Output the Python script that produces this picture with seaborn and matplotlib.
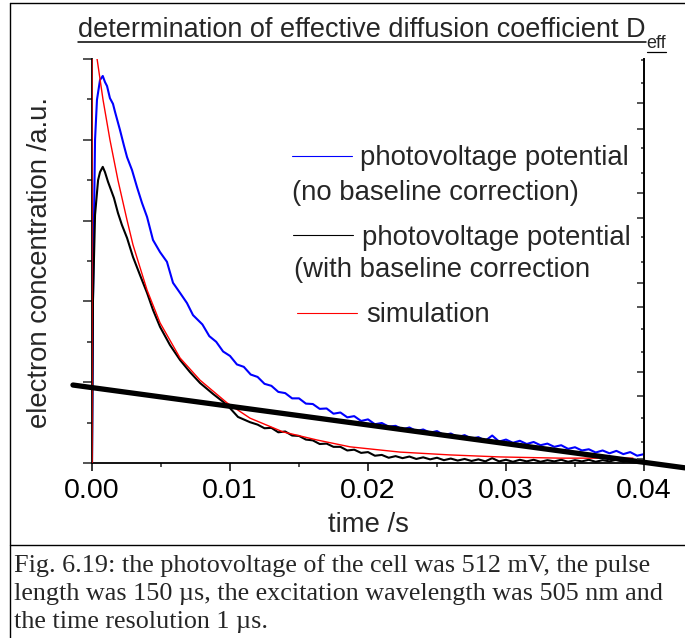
import matplotlib
matplotlib.use("Agg")
import matplotlib.pyplot as plt
import seaborn as sns
import pandas as pd
from matplotlib.lines import Line2D
from matplotlib.ticker import MultipleLocator, FixedLocator, NullFormatter

# ---------------- data ----------------
blue_time = [0, 0.00007, 0.00022, 0.00036, 0.00058, 0.00078, 0.00094, 0.00109, 0.0013, 0.00152,
             0.00167, 0.00203, 0.00232, 0.00254, 0.0029, 0.00326, 0.00362, 0.00399, 0.00442,
             0.00493, 0.00543, 0.00587, 0.00638, 0.00688, 0.00732,
             0.0080, 0.0085, 0.0090, 0.0095, 0.0100, 0.0105, 0.0110, 0.0115, 0.0120, 0.0125,
             0.0130, 0.0135, 0.0140, 0.0145, 0.0150, 0.0155, 0.0160, 0.0165, 0.0170, 0.0175,
             0.0180, 0.0185, 0.0190, 0.0195, 0.0200, 0.0205, 0.0210, 0.0215, 0.0220, 0.0225,
             0.0230, 0.0235, 0.0240, 0.0245, 0.0250, 0.0255, 0.0260, 0.0265, 0.0270, 0.0275,
             0.0280, 0.0285, 0.0290, 0.0295, 0.0300, 0.0305, 0.0310, 0.0315, 0.0320, 0.0325,
             0.0330, 0.0335, 0.0340, 0.0345, 0.0350, 0.0355, 0.0360, 0.0365, 0.0370, 0.0375,
             0.0380, 0.0385, 0.0390, 0.0395, 0.0400]
blue_signal = [0, 0.403, 0.800, 0.899, 0.948, 0.958, 0.943, 0.933, 0.903, 0.889,
               0.869, 0.824, 0.785, 0.757, 0.725, 0.683, 0.644, 0.609, 0.552,
               0.522, 0.498, 0.446, 0.421, 0.396, 0.366,
               0.343, 0.314, 0.300, 0.276, 0.265, 0.244, 0.238, 0.219, 0.213, 0.196,
               0.191, 0.176, 0.173, 0.160, 0.160, 0.147, 0.146, 0.134, 0.135, 0.122,
               0.125, 0.113, 0.116, 0.104, 0.108, 0.096, 0.099, 0.090, 0.092, 0.083,
               0.088, 0.079, 0.083, 0.075, 0.079, 0.069, 0.073, 0.064, 0.069, 0.060,
               0.064, 0.055, 0.068, 0.053, 0.058, 0.050, 0.055, 0.047, 0.052, 0.044,
               0.048, 0.040, 0.044, 0.035, 0.039, 0.031, 0.034, 0.026, 0.031, 0.024,
               0.030, 0.022, 0.027, 0.018, 0.022]

black_time = [0, 0.00007, 0.00022, 0.00044, 0.00058, 0.00078, 0.00094, 0.00116, 0.0013, 0.00159,
              0.00188, 0.00217, 0.00254, 0.00297, 0.00348, 0.00399, 0.00442, 0.00493, 0.00565,
              0.00638, 0.0071, 0.00783, 0.00877, 0.00978, 0.01058, 0.01145,
              0.0120, 0.0125, 0.0130, 0.0135, 0.0140, 0.0145, 0.0150, 0.0155, 0.0160, 0.0165,
              0.0170, 0.0175, 0.0180, 0.0185, 0.0190, 0.0195, 0.0200, 0.0205, 0.0210, 0.0215,
              0.0220, 0.0225, 0.0230, 0.0235, 0.0240, 0.0245, 0.0250, 0.0255, 0.0260, 0.0265,
              0.0270, 0.0275, 0.0280, 0.0285, 0.0290, 0.0295, 0.0300, 0.0305, 0.0310, 0.0315,
              0.0320, 0.0325, 0.0330, 0.0335, 0.0340, 0.0345, 0.0350, 0.0355, 0.0360, 0.0365,
              0.0370, 0.0375, 0.0380, 0.0385, 0.0390, 0.0395, 0.0400]
black_signal = [0, 0.403, 0.614, 0.700, 0.720, 0.733, 0.720, 0.696, 0.683, 0.656,
                0.619, 0.589, 0.557, 0.510, 0.465, 0.421, 0.379, 0.337, 0.292,
                0.255, 0.225, 0.198, 0.171, 0.144, 0.114, 0.101,
                0.095, 0.086, 0.087, 0.076, 0.078, 0.068, 0.067, 0.058, 0.056, 0.047,
                0.048, 0.040, 0.040, 0.031, 0.033, 0.025, 0.027, 0.018, 0.020, 0.013,
                0.017, 0.012, 0.016, 0.010, 0.014, 0.009, 0.013, 0.007, 0.011, 0.006,
                0.010, 0.005, 0.009, 0.004, 0.012, 0.004, 0.008, 0.003, 0.008, 0.004,
                0.008, 0.003, 0.007, 0.004, 0.008, 0.003, 0.007, 0.004, 0.008, 0.003,
                0.007, 0.004, 0.008, 0.003, 0.007, 0.004, 0.006]

sim_time = [0, 0, 0.00036, 0.0008, 0.0013, 0.00188, 0.00254, 0.00297, 0.00399, 0.00493,
            0.00638, 0.00783, 0.00978, 0.01145, 0.01384, 0.0163, 0.0187, 0.02232, 0.02594,
            0.02957, 0.03391, 0.0392]
sim_signal = [0, 1.09, 1.002, 0.899, 0.800, 0.700, 0.601, 0.540, 0.428, 0.347,
              0.260, 0.205, 0.149, 0.111, 0.077, 0.057, 0.040, 0.027, 0.020,
              0.015, 0.012, 0.012]

baseline_time = [-0.00138, 0.04297]
baseline_signal = [0.193, -0.012]

x_ticks = [0.00, 0.01, 0.02, 0.03, 0.04]
x_tick_labels = ["0.00", "0.01", "0.02", "0.03", "0.04"]
right_major = [0.010, 0.166, 0.225, 0.386, 0.446, 0.606, 0.668, 0.827, 0.891]
right_minor = [0.052, 0.111, 0.275, 0.332, 0.498, 0.559, 0.718, 0.780, 0.941, 0.998]

legend_labels = [("photovoltage potential", "(no baseline correction)"),
                 ("photovoltage potential", "(with baseline correction"),
                 ("simulation", None)]
title_main = "determination of effective diffusion coefficient D"
title_sub = "eff"
y_label = "electron concentration /a.u."
x_label = "time /s"
caption_lines = ["Fig. 6.19: the photovoltage of the cell was 512 mV, the pulse",
                 "length was 150 \u00b5s, the excitation wavelength was 505 nm and",
                 "the time resolution 1 \u00b5s."]

# ---------------- figure ----------------
sns.set_style("ticks")
plt.rcParams["font.family"] = ["Liberation Sans", "DejaVu Sans"]

W, H = 685, 638
fig = plt.figure(figsize=(W / 100, H / 100), dpi=100)


def fx(x):
    return x / W


def fy(y):
    return (H - y) / H


ax = fig.add_axes([fx(92), fy(463), (644 - 92) / W, (463 - 59) / H])

df_blue = pd.DataFrame({"t": blue_time, "v": blue_signal})
df_black = pd.DataFrame({"t": black_time, "v": black_signal})
df_sim = pd.DataFrame({"t": sim_time, "v": sim_signal})
df_base = pd.DataFrame({"t": baseline_time, "v": baseline_signal})

sns.lineplot(data=df_blue, x="t", y="v", ax=ax, color="#0000ff", lw=1.5,
             estimator=None, sort=False, zorder=3)
sns.lineplot(data=df_black, x="t", y="v", ax=ax, color="black", lw=1.5,
             estimator=None, sort=False, zorder=3)
sns.lineplot(data=df_sim, x="t", y="v", ax=ax, color="#ff0000", lw=1.0,
             estimator=None, sort=False, zorder=4)
sns.lineplot(data=df_base, x="t", y="v", ax=ax, color="black", lw=3.8,
             estimator=None, sort=False, zorder=5, clip_on=False)

ax.set_xlim(0, 0.04)
ax.set_ylim(0, 1.0)
ax.set_xlabel("")
ax.set_ylabel("")
ax.set_xticks(x_ticks)
ax.set_xticklabels(x_tick_labels, fontsize=20.5)
ax.xaxis.set_minor_locator(MultipleLocator(0.005))
ax.yaxis.set_major_locator(MultipleLocator(0.2))
ax.yaxis.set_minor_locator(MultipleLocator(0.1))
ax.yaxis.set_major_formatter(NullFormatter())
ax.tick_params(axis="x", which="major", direction="out", length=5.5, width=1.1, pad=5.5, colors="black")
ax.tick_params(axis="x", which="minor", direction="out", length=3, width=1.1)
ax.tick_params(axis="y", which="major", direction="out", length=6.5, width=1.1)
ax.tick_params(axis="y", which="minor", direction="out", length=3.6, width=1.1)
ax.spines["top"].set_visible(False)
ax.spines["right"].set_visible(False)
for s in ("left", "bottom"):
    ax.spines[s].set_linewidth(1.3)
    ax.spines[s].set_color("black")

ax2 = ax.twinx()
ax2.set_ylim(0, 1.0)
ax2.yaxis.set_major_locator(FixedLocator(right_major))
ax2.yaxis.set_minor_locator(FixedLocator(right_minor))
ax2.yaxis.set_major_formatter(NullFormatter())
ax2.tick_params(axis="y", which="major", direction="in", length=5.2, width=1.1)
ax2.tick_params(axis="y", which="minor", direction="in", length=2.5, width=1.1)
for s in ("top", "left", "bottom"):
    ax2.spines[s].set_visible(False)
ax2.spines["right"].set_linewidth(1.4)
ax2.spines["right"].set_color("black")

# axis labels
fig.text(fx(368), fy(532), x_label, fontsize=19.8, ha="center", va="baseline")
fig.text(fx(40), fy(262), y_label, fontsize=19.8, rotation=90, ha="center", va="center")

# legend (drawn like the original: wrapped text under the sample line)
leg_colors = ["#0000ff", "black", "#ff0000"]
leg_line_y = [156, 235, 313]
leg_line_x = [(292, 352), (293, 353), (297, 357)]
leg_text_x = [360, 362, 366]
leg_base1 = [165, 245, 322]
leg_x2 = [292, 294, None]
leg_base2 = [200, 277, None]
for i, (l1, l2) in enumerate(legend_labels):
    fig.add_artist(Line2D([fx(leg_line_x[i][0]), fx(leg_line_x[i][1])],
                          [fy(leg_line_y[i])] * 2, color=leg_colors[i], lw=0.8,
                          transform=fig.transFigure))
    fig.text(fx(leg_text_x[i]), fy(leg_base1[i]), l1, fontsize=19.8, va="baseline", ha="left")
    if l2:
        fig.text(fx(leg_x2[i]), fy(leg_base2[i]), l2, fontsize=19.8, va="baseline", ha="left")

# title with underline and subscript
t_main = fig.text(fx(78), fy(37), title_main, fontsize=19.5, va="baseline", ha="left")
fig.canvas.draw()
r = fig.canvas.get_renderer()
bb = t_main.get_window_extent(r)
t_sub = fig.text(bb.x1 / W + fx(1), fy(48.5), title_sub, fontsize=13, va="baseline", ha="left")
fig.add_artist(Line2D([bb.x0 / W, bb.x1 / W], [fy(41.5)] * 2, color="black", lw=1.1,
                      transform=fig.transFigure))
fig.canvas.draw()
bb2 = t_sub.get_window_extent(r)
fig.add_artist(Line2D([bb2.x0 / W, bb2.x1 / W], [fy(52)] * 2, color="black", lw=0.9,
                      transform=fig.transFigure))

# caption
cap_base = [572, 600, 628]
for line, yb in zip(caption_lines, cap_base):
    fig.text(fx(14), fy(yb), line, fontsize=18.8, va="baseline", ha="left",
             family=["Liberation Serif", "DejaVu Serif"])

# frame lines
fig.add_artist(Line2D([fx(10), fx(10)], [fy(3), fy(640)], color="black", lw=1.0, transform=fig.transFigure))
fig.add_artist(Line2D([fx(10), fx(690)], [fy(3), fy(3)], color="black", lw=1.0, transform=fig.transFigure))
fig.add_artist(Line2D([fx(10), fx(690)], [fy(545), fy(545)], color="black", lw=1.0, transform=fig.transFigure))

fig.savefig("out.png", dpi=100)
